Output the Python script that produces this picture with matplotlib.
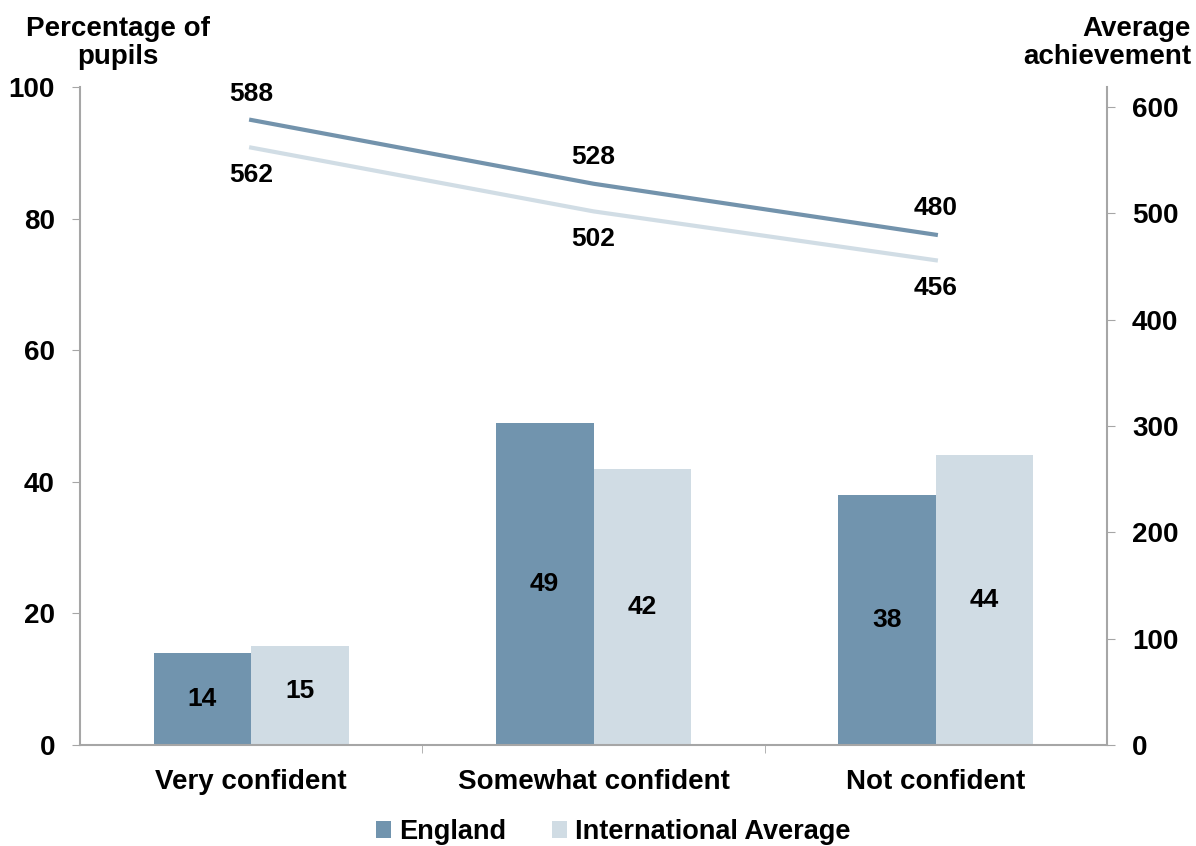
import matplotlib
matplotlib.use("Agg")
import matplotlib.pyplot as plt
import numpy as np

plt.rcParams['font.family'] = ['Liberation Sans', 'DejaVu Sans']
plt.rcParams['font.weight'] = 'bold'

categories = ["Very confident", "Somewhat confident", "Not confident"]
england_pct = [14, 49, 38]
intl_pct = [15, 42, 44]
england_ach = [588, 528, 480]
intl_ach = [562, 502, 456]

c_eng = "#7194AE"
c_int = "#D0DCE4"
c_axis = "#A6A6A6"

fig = plt.figure(figsize=(11.96, 8.46), dpi=100)
ax = fig.add_axes([80/1196, 1-745/846, (1107-80)/1196, (745-87)/846])
ax2 = ax.twinx()

x = np.arange(len(categories))
w = 0.285
ax.bar(x - w/2, england_pct, w, color=c_eng, zorder=2, label="England")
ax.bar(x + w/2, intl_pct, w, color=c_int, zorder=2, label="International Average")
for xi, v in zip(x, england_pct):
    ax.text(xi - w/2, v/2, f"{v}", ha='center', va='center', fontsize=19, fontweight='bold')
for xi, v in zip(x, intl_pct):
    ax.text(xi + w/2, v/2 + (0.7 if v < 20 else 0), f"{v}", ha='center', va='center', fontsize=19, fontweight='bold')

ax.set_xlim(-0.5, 2.5)
ax.set_ylim(0, 100)
ax.set_yticks([0, 20, 40, 60, 80, 100])
ax.set_xticks(x)
ax.set_xticklabels(categories, fontsize=20, fontweight='bold')
ax.set_xticks([0.5, 1.5], minor=True)
ax.tick_params(axis='x', which='major', length=0, pad=17)
ax.tick_params(axis='x', which='minor', length=6, color=c_axis, direction='out')
ax.tick_params(axis='y', length=6, color=c_axis, labelsize=20, pad=12)

ax2.plot(x, england_ach, color="#7393AC", lw=3, zorder=3)
ax2.plot(x, intl_ach, color="#D1DDE5", lw=3, zorder=3)
for xi, v in zip(x, england_ach):
    ax2.annotate(f"{v}", (xi, v), xytext=(0, 19), textcoords='offset points',
                 ha='center', va='center', fontsize=19, fontweight='bold')
for xi, v in zip(x, intl_ach):
    ax2.annotate(f"{v}", (xi, v), xytext=(0, -20), textcoords='offset points',
                 ha='center', va='center', fontsize=19, fontweight='bold')
ax2.set_ylim(0, 619)
ax2.set_yticks([0, 100, 200, 300, 400, 500, 600])
ax2.tick_params(axis='y', length=6, color=c_axis, labelsize=20, pad=12)

for a in (ax, ax2):
    a.spines['top'].set_visible(False)
    for s in ['left', 'right', 'bottom']:
        a.spines[s].set_color(c_axis)
        a.spines[s].set_linewidth(1.5)
ax.spines['right'].set_visible(False)
ax2.spines['left'].set_visible(False)
ax2.spines['bottom'].set_visible(False)

for lab in ax.get_yticklabels() + ax2.get_yticklabels():
    lab.set_fontweight('bold')

fig.text(118/1196, 1-43/846, "Percentage of\npupils", ha='center', va='center',
         fontsize=20, fontweight='bold', linespacing=1.05)
fig.text(1191/1196, 1-43/846, "Average\nachievement", ha='right', va='center',
         multialignment='right', fontsize=20, fontweight='bold', linespacing=1.05)

ax.legend(loc='center', bbox_to_anchor=(613/1196, 1-832/846), bbox_transform=fig.transFigure,
          ncol=2, frameon=False, handlelength=0.55, handleheight=0.55,
          handletextpad=0.3, columnspacing=1.7, borderpad=0.1,
          prop={'weight': 'bold', 'size': 19.5})

fig.savefig("out.png", dpi=100)
